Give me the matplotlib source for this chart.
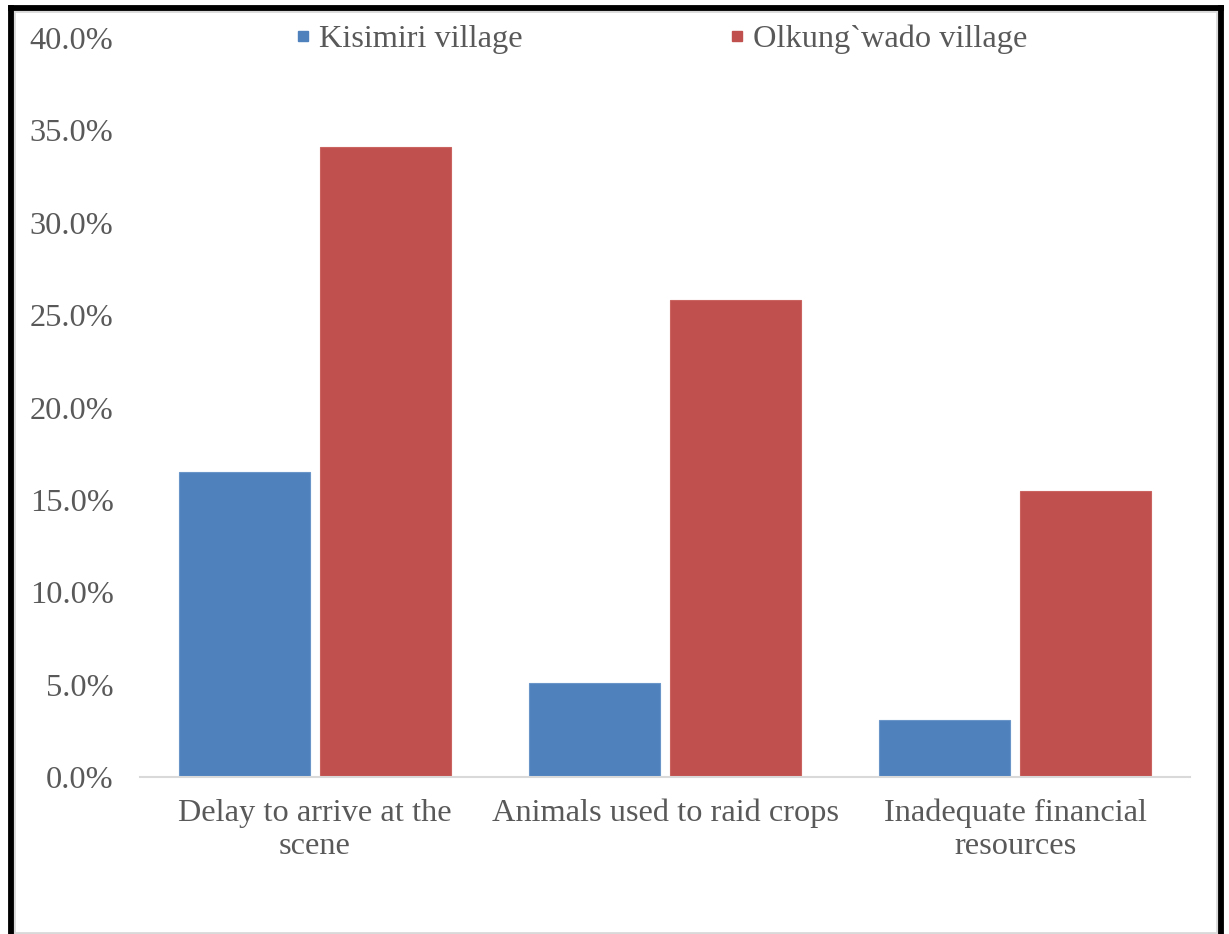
import matplotlib
matplotlib.use("Agg")
import matplotlib.pyplot as plt
from matplotlib.patches import Rectangle
from matplotlib.lines import Line2D
from matplotlib.ticker import PercentFormatter
import numpy as np

categories = ["Delay to arrive at the\nscene", "Animals used to raid crops",
              "Inadequate financial\nresources"]
series_names = ["Kisimiri village", "Olkung`wado village"]
kisimiri = [16.5, 5.1, 3.1]
olkungwado = [34.1, 25.8, 15.5]
y_ticks = [0, 5, 10, 15, 20, 25, 30, 35, 40]

BLUE = "#4F81BD"
RED = "#C0504D"
TEXT = "#595959"
FS = 23.3

plt.rcParams["font.family"] = ["Liberation Serif", "DejaVu Serif"]

fig = plt.figure(figsize=(12.29, 9.34), dpi=100)
ax = fig.add_axes([0.1139, 0.1681, 0.8544, 0.7912])

x = np.arange(len(categories))
w = 0.374
off = 0.2014
ax.bar(x - off, kisimiri, w, color=BLUE, edgecolor="#6A95C8", linewidth=0.8)
ax.bar(x + off, olkungwado, w, color=RED, edgecolor="#C96461", linewidth=0.8)

ax.set_xlim(-0.5, len(categories) - 0.5)
ax.set_ylim(0, 40)
ax.set_yticks(y_ticks)
ax.yaxis.set_major_formatter(PercentFormatter(decimals=1))
ax.set_xticks(x)
ax.set_xticklabels(categories, linespacing=1.2)

for s in ["top", "right", "left"]:
    ax.spines[s].set_visible(False)
ax.spines["bottom"].set_color("#D9D9D9")
ax.spines["bottom"].set_linewidth(1.5)
ax.tick_params(axis="both", length=0, labelsize=FS, colors=TEXT)
ax.tick_params(axis="y", pad=19)
ax.tick_params(axis="x", pad=15.5)

handles = [Line2D([], [], marker="s", linestyle="none", markersize=7,
                  color=BLUE),
           Line2D([], [], marker="s", linestyle="none", markersize=7,
                  color=RED)]
leg = ax.legend(handles, series_names, loc="center",
                bbox_to_anchor=(0.497, 0.998), ncol=2, frameon=False,
                fontsize=FS, handlelength=0.4, handletextpad=0.3,
                columnspacing=6.4, borderaxespad=0)
for t in leg.get_texts():
    t.set_color(TEXT)

# outer frame: thin grey inner rule with a heavy black border on three sides
W, H = 1229, 934
fig.patches.append(Rectangle((13.5 / W, 1.5 / H), (1216.5 - 13.5) / W,
                             (923.5 - 1.5) / H, transform=fig.transFigure,
                             fill=False, edgecolor="#D9D9D9", linewidth=2.0))
black = dict(transform=fig.transFigure, color="black", linewidth=4.2,
             solid_capstyle="projecting")
fig.lines.append(Line2D([10.5 / W, 10.5 / W], [0, (934 - 8) / H], **black))
fig.lines.append(Line2D([10.5 / W, 1221 / W], [(934 - 8) / H, (934 - 8) / H], **black))
fig.lines.append(Line2D([1221 / W, 1221 / W], [0, (934 - 8) / H], **black))

fig.savefig("out.png", dpi=100)
